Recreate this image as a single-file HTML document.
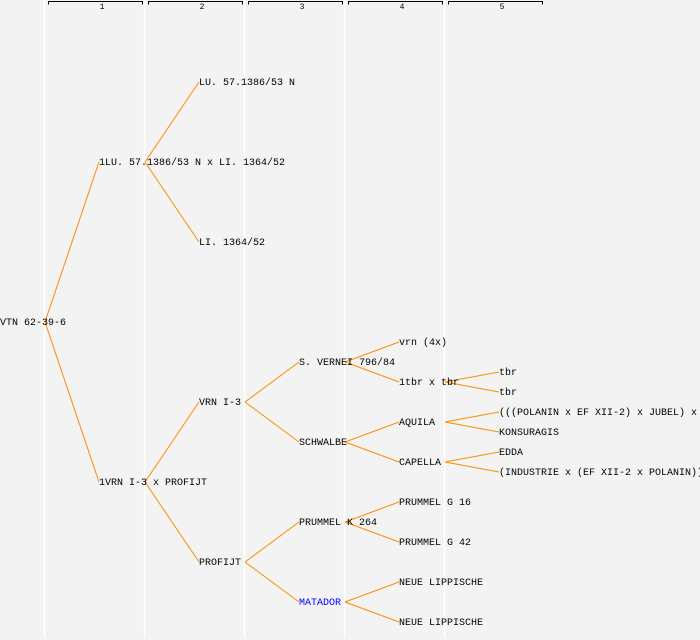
<!DOCTYPE html>
<html><head><meta charset="utf-8"><style>
html,body{margin:0;padding:0;background:#f3f3f3;}
svg{display:block;}
text{font-family:"Liberation Mono",monospace;font-size:10px;fill:#000;}
</style></head><body>
<svg width="700" height="640" viewBox="0 0 700 640" xmlns="http://www.w3.org/2000/svg">
<rect width="700" height="640" fill="#f3f3f3"/>
<g stroke="#ffffff" stroke-width="1.5">
<line x1="44.5" y1="0" x2="44.5" y2="638"/>
<line x1="144.5" y1="0" x2="144.5" y2="638"/>
<line x1="244.5" y1="0" x2="244.5" y2="638"/>
<line x1="344.5" y1="0" x2="344.5" y2="638"/>
<line x1="444.5" y1="0" x2="444.5" y2="638"/>
</g>
<g stroke="#000" stroke-width="1" fill="none">
<path d="M48.5 4.5V1.5H142.5V4.5"/>
<path d="M148.5 4.5V1.5H242.5V4.5"/>
<path d="M248.5 4.5V1.5H342.5V4.5"/>
<path d="M348.5 4.5V1.5H442.5V4.5"/>
<path d="M448.5 4.5V1.5H542.5V4.5"/>
</g>
<g text-anchor="middle">
<text x="102" y="9" style="font-size:8px">1</text>
<text x="202" y="9" style="font-size:8px">2</text>
<text x="302" y="9" style="font-size:8px">3</text>
<text x="402" y="9" style="font-size:8px">4</text>
<text x="502" y="9" style="font-size:8px">5</text>
</g>
<g stroke="#ff8c00" stroke-width="1" fill="none">
<line x1="45" y1="322" x2="99" y2="162"/>
<line x1="45" y1="322" x2="99" y2="482"/>
<line x1="145" y1="162" x2="199" y2="82"/>
<line x1="145" y1="162" x2="199" y2="242"/>
<line x1="145" y1="482" x2="199" y2="402"/>
<line x1="145" y1="482" x2="199" y2="562"/>
<line x1="245" y1="402" x2="299" y2="362"/>
<line x1="245" y1="402" x2="299" y2="442"/>
<line x1="245" y1="562" x2="299" y2="522"/>
<line x1="245" y1="562" x2="299" y2="602"/>
<line x1="345" y1="362" x2="399" y2="342"/>
<line x1="345" y1="362" x2="399" y2="382"/>
<line x1="345" y1="442" x2="399" y2="422"/>
<line x1="345" y1="442" x2="399" y2="462"/>
<line x1="345" y1="522" x2="399" y2="502"/>
<line x1="345" y1="522" x2="399" y2="542"/>
<line x1="345" y1="602" x2="399" y2="582"/>
<line x1="345" y1="602" x2="399" y2="622"/>
<line x1="445" y1="382" x2="499" y2="372"/>
<line x1="445" y1="382" x2="499" y2="392"/>
<line x1="445" y1="422" x2="499" y2="412"/>
<line x1="445" y1="422" x2="499" y2="432"/>
<line x1="445" y1="462" x2="499" y2="452"/>
<line x1="445" y1="462" x2="499" y2="472"/>
</g>
<g>
<text x="0" y="325">VTN 62-39-6</text>
<text x="99" y="165">1LU. 57.1386/53 N x LI. 1364/52</text>
<text x="99" y="485">1VRN I-3 x PROFIJT</text>
<text x="199" y="85">LU. 57.1386/53 N</text>
<text x="199" y="245">LI. 1364/52</text>
<text x="199" y="405">VRN I-3</text>
<text x="199" y="565">PROFIJT</text>
<text x="299" y="365">S. VERNEI 796/84</text>
<text x="299" y="445">SCHWALBE</text>
<text x="299" y="525">PRUMMEL K 264</text>
<text x="299" y="605" style="fill:#0000ff">MATADOR</text>
<text x="399" y="345">vrn (4x)</text>
<text x="399" y="385">1tbr x tbr</text>
<text x="399" y="425">AQUILA</text>
<text x="399" y="465">CAPELLA</text>
<text x="399" y="505">PRUMMEL G 16</text>
<text x="399" y="545">PRUMMEL G 42</text>
<text x="399" y="585">NEUE LIPPISCHE</text>
<text x="399" y="625">NEUE LIPPISCHE</text>
<text x="499" y="375">tbr</text>
<text x="499" y="395">tbr</text>
<text x="499" y="415">(((POLANIN x EF XII-2) x JUBEL) x</text>
<text x="499" y="435">KONSURAGIS</text>
<text x="499" y="455">EDDA</text>
<text x="499" y="475">(INDUSTRIE x (EF XII-2 x POLANIN))</text>
</g>
</svg>
</body></html>
